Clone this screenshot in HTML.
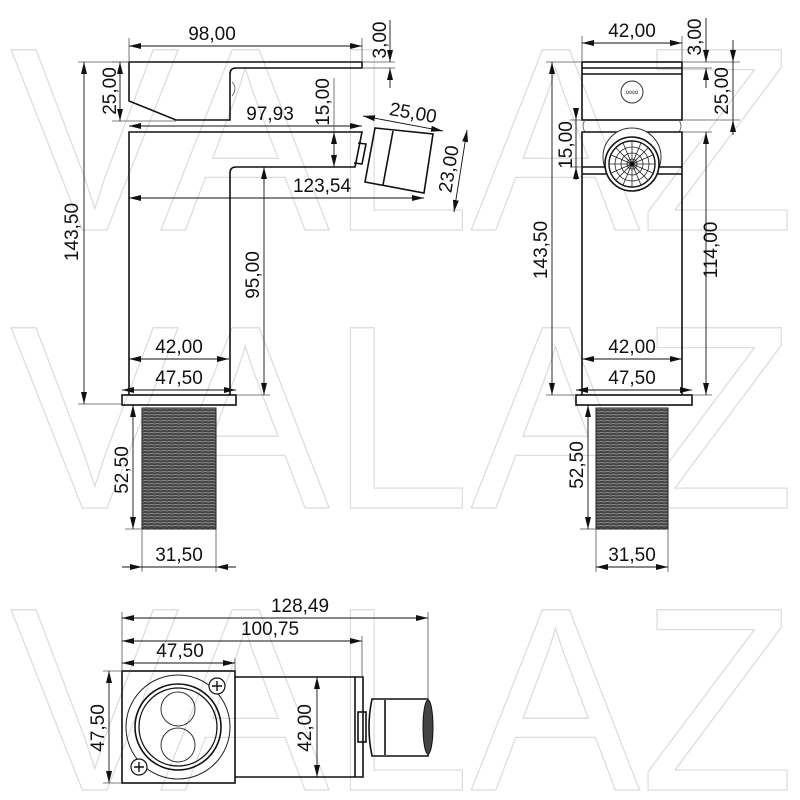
<!DOCTYPE html>
<html><head><meta charset="utf-8"><style>
html,body{margin:0;padding:0;background:#fff;width:800px;height:800px;overflow:hidden}
svg{display:block}
.t{font-family:"Liberation Sans",sans-serif;font-size:19px;fill:#111}
.o{fill:none;stroke:#111;stroke-width:1.6}
.d{stroke:#111;stroke-width:0.9;fill:none}
.e{stroke:#555;stroke-width:0.8;fill:none}
.w{font-family:"Liberation Sans",sans-serif;font-size:262px;fill:none;stroke:#dadada;stroke-width:1.2}
</style></head><body>
<svg width="800" height="800" viewBox="0 0 800 800" xmlns="http://www.w3.org/2000/svg">
<defs>
<marker id="a" viewBox="0 0 12 6" refX="12" refY="3" markerWidth="12" markerHeight="6" markerUnits="userSpaceOnUse" orient="auto-start-reverse"><path d="M0,0 L12,3 L0,6 Z" fill="#111"/></marker>
<pattern id="th" width="6" height="3" patternUnits="userSpaceOnUse"><rect width="6" height="3" fill="#444"/><line x1="0" y1="0.5" x2="6" y2="1" stroke="#a0a0a0" stroke-width="0.7"/></pattern>
</defs>
<text class="w" x="10" y="230" textLength="785" lengthAdjust="spacingAndGlyphs">VALAZ</text>
<text class="w" x="10" y="508" textLength="785" lengthAdjust="spacingAndGlyphs">VALAZ</text>
<text class="w" x="10" y="790" textLength="785" lengthAdjust="spacingAndGlyphs">VALAZ</text>

<path class="o" d="M129,62 H362 V68 H236 Q230,68 230,74 V120 H176 L129,101 Z"/>
<path class="o" d="M129,395 V132 H362 L355,167 H236 Q230,167 230,173 V395"/>
<path class="e" d="M232,82 q6,6 0,14"/>
<rect class="o" x="122" y="395" width="114" height="10"/>
<rect x="142" y="408" width="74" height="121" fill="url(#th)" stroke="#222" stroke-width="1"/>
<path class="o" d="M358,143 L366,144 L362,164 L354,163"/>
<path class="o" d="M375,128 L433,134 L424,193 L365,182 Z"/>
<line class="o" x1="393" y1="131" x2="383" y2="185"/>
<line class="e" x1="129" y1="38" x2="129" y2="62"/><line class="e" x1="362" y1="38" x2="362" y2="62"/>
<line class="d" x1="129" y1="46" x2="362" y2="46" marker-start="url(#a)" marker-end="url(#a)"/>
<text class="t" x="212" y="40" text-anchor="middle">98,00</text>
<line class="e" x1="362" y1="62" x2="395" y2="62"/><line class="e" x1="362" y1="68" x2="395" y2="68"/>
<line class="d" x1="390" y1="20" x2="390" y2="62" marker-end="url(#a)"/><line class="d" x1="390" y1="88" x2="390" y2="68" marker-end="url(#a)"/>
<text class="t" transform="translate(386,40) rotate(-90)" text-anchor="middle">3,00</text>
<line class="e" x1="112" y1="62" x2="129" y2="62"/><line class="e" x1="112" y1="121" x2="176" y2="121"/>
<line class="d" x1="120" y1="62" x2="120" y2="121" marker-start="url(#a)" marker-end="url(#a)"/>
<text class="t" transform="translate(116,91) rotate(-90)" text-anchor="middle">25,00</text>
<line class="e" x1="78" y1="62" x2="129" y2="62"/><line class="e" x1="78" y1="404" x2="122" y2="404"/>
<line class="d" x1="84" y1="62" x2="84" y2="404" marker-start="url(#a)" marker-end="url(#a)"/>
<text class="t" transform="translate(78,232) rotate(-90)" text-anchor="middle">143,50</text>
<line class="d" x1="129" y1="126" x2="362" y2="126" marker-start="url(#a)" marker-end="url(#a)"/>
<text class="t" x="270" y="120" text-anchor="middle">97,93</text>
<line class="e" x1="334" y1="78" x2="334" y2="132"/>
<line class="d" x1="334" y1="132" x2="334" y2="167" marker-start="url(#a)" marker-end="url(#a)"/>
<text class="t" transform="translate(329,102) rotate(-90)" text-anchor="middle">15,00</text>
<line class="d" x1="363" y1="116" x2="443" y2="131" marker-start="url(#a)" marker-end="url(#a)"/>
<text class="t" transform="translate(412,119) rotate(10)" text-anchor="middle">25,00</text>
<line class="d" x1="467" y1="130" x2="454" y2="212" marker-start="url(#a)" marker-end="url(#a)"/>
<text class="t" transform="translate(455,170) rotate(-81)" text-anchor="middle">23,00</text>
<line class="d" x1="129" y1="198" x2="424" y2="198" marker-start="url(#a)" marker-end="url(#a)"/>
<text class="t" x="322" y="192" text-anchor="middle">123,54</text>
<line class="e" x1="236" y1="395" x2="270" y2="395"/>
<line class="d" x1="264" y1="167" x2="264" y2="395" marker-start="url(#a)" marker-end="url(#a)"/>
<text class="t" transform="translate(259,275) rotate(-90)" text-anchor="middle">95,00</text>
<line class="d" x1="129" y1="359" x2="229" y2="359" marker-start="url(#a)" marker-end="url(#a)"/>
<text class="t" x="179" y="353" text-anchor="middle">42,00</text>
<line class="d" x1="122" y1="390" x2="236" y2="390" marker-start="url(#a)" marker-end="url(#a)"/>
<text class="t" x="179" y="384" text-anchor="middle">47,50</text>
<line class="e" x1="125" y1="529" x2="142" y2="529"/>
<line class="d" x1="133" y1="405" x2="133" y2="529" marker-start="url(#a)" marker-end="url(#a)"/>
<text class="t" transform="translate(128,470) rotate(-90)" text-anchor="middle">52,50</text>
<line class="e" x1="142" y1="529" x2="142" y2="572"/><line class="e" x1="216" y1="529" x2="216" y2="572"/>
<line class="d" x1="122" y1="567" x2="142" y2="567" marker-end="url(#a)"/><line class="d" x1="236" y1="567" x2="216" y2="567" marker-end="url(#a)"/>
<line class="d" x1="142" y1="567" x2="216" y2="567"/>
<text class="t" x="179" y="561" text-anchor="middle">31,50</text>

<rect class="o" x="582" y="62" width="100" height="58"/>
<line class="o" x1="582" y1="68" x2="682" y2="68"/><line class="o" x1="582" y1="74" x2="682" y2="74"/>
<circle cx="632" cy="92" r="11" fill="none" stroke="#333" stroke-width="1"/>
<text x="632" y="95" font-family="Liberation Sans" font-size="9" text-anchor="middle" fill="#333">∞∞</text>
<path class="e" d="M585,120 q-4,6 0,12 M679,120 q4,6 0,12"/>
<path class="o" d="M582,395 V132 H682 V395"/>
<line class="o" x1="582" y1="167" x2="682" y2="167"/><line class="o" x1="582" y1="174" x2="682" y2="174"/>
<circle cx="632" cy="157" r="29" fill="#fff" stroke="#333" stroke-width="1"/>
<circle cx="632" cy="164" r="27" fill="#fff" stroke="#111" stroke-width="1.6"/>
<circle cx="632" cy="164" r="23" fill="none" stroke="#111" stroke-width="1.4"/>
<circle cx="632" cy="164" r="17" fill="none" stroke="#222" stroke-width="0.8"/>
<circle cx="632" cy="164" r="11" fill="none" stroke="#222" stroke-width="0.8"/>
<circle cx="632" cy="164" r="5" fill="none" stroke="#222" stroke-width="0.8"/>
<g stroke="#222" stroke-width="0.8">
<line x1="609" y1="164" x2="655" y2="164"/><line x1="632" y1="141" x2="632" y2="187"/>
<line x1="616" y1="148" x2="648" y2="180"/><line x1="648" y1="148" x2="616" y2="180"/>
<line x1="611" y1="155" x2="653" y2="173"/><line x1="611" y1="173" x2="653" y2="155"/>
<line x1="623" y1="143" x2="641" y2="185"/><line x1="641" y1="143" x2="623" y2="185"/>
</g>
<circle cx="632" cy="164" r="2.5" fill="#111"/>
<rect class="o" x="576" y="395" width="116" height="10"/>
<rect x="596" y="408" width="72" height="121" fill="url(#th)" stroke="#222" stroke-width="1"/>
<line class="e" x1="582" y1="36" x2="582" y2="62"/><line class="e" x1="682" y1="36" x2="682" y2="62"/>
<line class="d" x1="582" y1="43" x2="682" y2="43" marker-start="url(#a)" marker-end="url(#a)"/>
<text class="t" x="632" y="37" text-anchor="middle">42,00</text>
<line class="e" x1="682" y1="62" x2="740" y2="62"/><line class="e" x1="682" y1="68" x2="712" y2="68"/>
<line class="d" x1="706" y1="18" x2="706" y2="62" marker-end="url(#a)"/><line class="d" x1="706" y1="88" x2="706" y2="68" marker-end="url(#a)"/>
<text class="t" transform="translate(701,37) rotate(-90)" text-anchor="middle">3,00</text>
<line class="e" x1="682" y1="120" x2="740" y2="120"/>
<line class="d" x1="733" y1="40" x2="733" y2="62" marker-end="url(#a)"/><line class="d" x1="733" y1="135" x2="733" y2="120" marker-end="url(#a)"/>
<line class="d" x1="733" y1="62" x2="733" y2="120"/>
<text class="t" transform="translate(728,91) rotate(-90)" text-anchor="middle">25,00</text>
<line class="e" x1="570" y1="120" x2="582" y2="120"/><line class="e" x1="570" y1="167" x2="582" y2="167"/>
<line class="d" x1="576" y1="112" x2="576" y2="174" />
<line class="d" x1="576" y1="108" x2="576" y2="120" marker-end="url(#a)"/><line class="d" x1="576" y1="180" x2="576" y2="167" marker-end="url(#a)"/>
<text class="t" transform="translate(572,145) rotate(-90)" text-anchor="middle">15,00</text>
<line class="e" x1="546" y1="62" x2="582" y2="62"/><line class="e" x1="546" y1="395" x2="576" y2="395"/>
<line class="d" x1="552" y1="62" x2="552" y2="395" marker-start="url(#a)" marker-end="url(#a)"/>
<text class="t" transform="translate(547,250) rotate(-90)" text-anchor="middle">143,50</text>
<line class="e" x1="682" y1="132" x2="712" y2="132"/><line class="e" x1="692" y1="395" x2="712" y2="395"/>
<line class="d" x1="706" y1="132" x2="706" y2="395" marker-start="url(#a)" marker-end="url(#a)"/>
<text class="t" transform="translate(717,250) rotate(-90)" text-anchor="middle">114,00</text>
<line class="d" x1="582" y1="359" x2="682" y2="359" marker-start="url(#a)" marker-end="url(#a)"/>
<text class="t" x="632" y="353" text-anchor="middle">42,00</text>
<line class="d" x1="576" y1="390" x2="692" y2="390" marker-start="url(#a)" marker-end="url(#a)"/>
<text class="t" x="632" y="384" text-anchor="middle">47,50</text>
<line class="e" x1="580" y1="529" x2="596" y2="529"/>
<line class="d" x1="588" y1="405" x2="588" y2="529" marker-start="url(#a)" marker-end="url(#a)"/>
<text class="t" transform="translate(583,465) rotate(-90)" text-anchor="middle">52,50</text>
<line class="e" x1="596" y1="529" x2="596" y2="572"/><line class="e" x1="668" y1="529" x2="668" y2="572"/>
<line class="d" x1="596" y1="567" x2="668" y2="567" marker-start="url(#a)" marker-end="url(#a)"/>
<text class="t" x="632" y="561" text-anchor="middle">31,50</text>

<rect class="o" x="122" y="671" width="113" height="112"/>
<path class="o" d="M235,677 H363 V777 H235"/>
<line class="o" x1="355" y1="677" x2="355" y2="777"/>
<circle cx="178" cy="727" r="52" fill="none" stroke="#222" stroke-width="1"/>
<circle cx="178" cy="727" r="43" fill="none" stroke="#111" stroke-width="1.6"/>
<circle cx="178" cy="727" r="39" fill="none" stroke="#111" stroke-width="1.3"/>
<circle cx="178" cy="709" r="17" fill="none" stroke="#333" stroke-width="1"/>
<circle cx="178" cy="745" r="17" fill="none" stroke="#333" stroke-width="1"/>
<circle cx="217" cy="686" r="8" fill="#fff" stroke="#111" stroke-width="1.2"/>
<path d="M212,686 H222 M217,681 V691" stroke="#111" stroke-width="1.4"/>
<circle cx="139" cy="767" r="8" fill="#fff" stroke="#111" stroke-width="1.2"/>
<path d="M134,767 H144 M139,762 V772" stroke="#111" stroke-width="1.4"/>
<rect class="o" x="358" y="712" width="8" height="30"/>
<path class="o" d="M372,699 H428 Q433,727 428,756 H372 Q366,727 372,699 Z"/>
<line class="o" x1="385" y1="700" x2="385" y2="755"/>
<ellipse cx="428" cy="727" rx="5" ry="27" fill="#444" stroke="#111" stroke-width="1"/>
<line class="e" x1="122" y1="612" x2="122" y2="671"/><line class="e" x1="428" y1="612" x2="428" y2="700"/>
<line class="e" x1="362" y1="636" x2="362" y2="677"/><line class="e" x1="235" y1="658" x2="235" y2="671"/>
<line class="d" x1="122" y1="618" x2="428" y2="618" marker-start="url(#a)" marker-end="url(#a)"/>
<text class="t" x="300" y="612" text-anchor="middle">128,49</text>
<line class="d" x1="122" y1="641" x2="362" y2="641" marker-start="url(#a)" marker-end="url(#a)"/>
<text class="t" x="270" y="635" text-anchor="middle">100,75</text>
<line class="d" x1="122" y1="663" x2="235" y2="663" marker-start="url(#a)" marker-end="url(#a)"/>
<text class="t" x="180" y="657" text-anchor="middle">47,50</text>
<line class="e" x1="103" y1="671" x2="122" y2="671"/><line class="e" x1="103" y1="783" x2="122" y2="783"/>
<line class="d" x1="109" y1="671" x2="109" y2="783" marker-start="url(#a)" marker-end="url(#a)"/>
<text class="t" transform="translate(104,728) rotate(-90)" text-anchor="middle">47,50</text>
<line class="d" x1="317" y1="677" x2="317" y2="777" marker-start="url(#a)" marker-end="url(#a)"/>
<text class="t" transform="translate(311,728) rotate(-90)" text-anchor="middle">42,00</text>
</svg>
</body></html>
